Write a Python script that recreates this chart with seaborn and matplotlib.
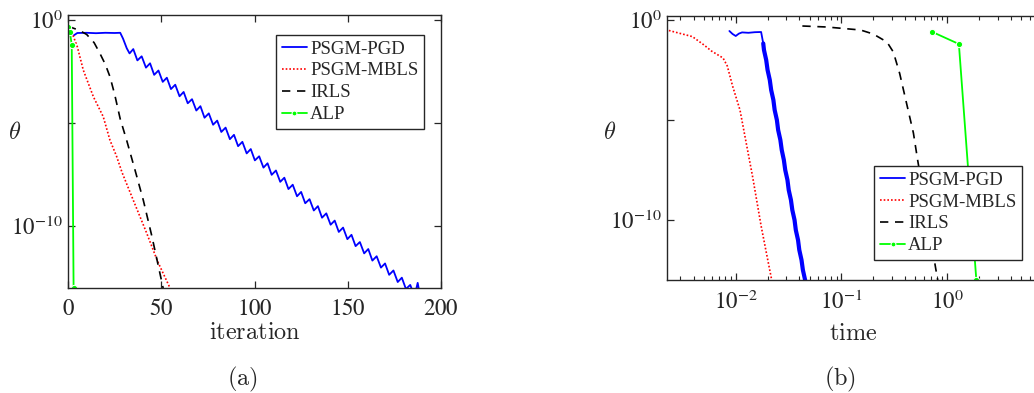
import numpy as np
import pandas as pd
import matplotlib
matplotlib.use("Agg")
import matplotlib.pyplot as plt
from matplotlib.ticker import FixedLocator, FixedFormatter, LogLocator, NullFormatter
import seaborn as sns

# ---- data (theta given as log10 exponents) ----
# (a) theta vs iteration
pgd_iter = [2, 3, 5, 10, 15, 20, 25, 28, 29.5, 31.5, 33.0,
            35.0, 37.2, 39.5, 41.8, 44.0, 46.2, 48.5, 50.8, 53.0, 55.2,
            57.5, 59.8, 62.0, 64.2, 66.5, 68.8, 71.0, 73.2, 75.5, 77.8,
            80.0, 82.2, 84.5, 86.8, 89.0, 91.2, 93.5, 95.8, 98.0, 100.2,
            102.5, 104.8, 107.0, 109.2, 111.5, 113.8, 116.0, 118.2, 120.5, 122.8,
            125.0, 127.2, 129.5, 131.8, 134.0, 136.2, 138.5, 140.8, 143.0, 145.2,
            147.5, 149.8, 152.0, 154.2, 156.5, 158.8, 161.0, 163.2, 165.5, 167.8,
            170.0, 172.2, 174.5, 176.8, 179.0, 181.2, 183.5, 185.8, 187.5, 189.0]
pgd_exp = [-0.55, -0.75, -0.63, -0.62, -0.64, -0.62, -0.63, -0.62, -0.9, -1.37, -1.62,
           -1.41, -1.96, -1.76, -2.31, -2.10, -2.66, -2.45, -3.00, -2.80, -3.35,
           -3.14, -3.70, -3.49, -4.04, -3.84, -4.39, -4.18, -4.74, -4.53, -5.08,
           -4.88, -5.43, -5.22, -5.78, -5.57, -6.12, -5.91, -6.47, -6.26, -6.81,
           -6.61, -7.16, -6.95, -7.51, -7.30, -7.85, -7.65, -8.20, -7.99, -8.55,
           -8.34, -8.89, -8.69, -9.24, -9.03, -9.59, -9.38, -9.93, -9.73, -10.28,
           -10.07, -10.63, -10.42, -10.97, -10.77, -11.32, -11.11, -11.67, -11.46, -12.01,
           -11.81, -12.36, -12.15, -12.71, -12.50, -13.05, -12.85, -13.40, -12.75, -13.5]

mbls_iter = [2, 5, 8.2, 13.6, 18.9, 22.5, 26, 29, 35, 42.2, 48, 54.7, 56]
mbls_exp = [-0.58, -1.3, -2.43, -3.72, -4.69, -5.83, -6.6, -7.4, -8.74, -10.34, -11.7, -13.0, -13.3]

irls_iter = [0, 3, 6, 10, 14, 17, 20, 22.5, 25, 28, 31.5, 36, 40.4, 45, 51, 52]
irls_exp = [-0.3, -0.4, -0.5, -0.7, -1.1, -1.6, -2.15, -2.75, -3.6, -4.8, -5.85, -7.3, -8.75, -10.5, -13.0, -13.4]

alp_iter = [0, 1, 2, 3]
alp_exp = [-0.34, -0.58, -1.2, -13.0]

# (b) theta vs time (time also as log10 exponents)
pgd_t = [-2.06, -2.03, -2.00, -1.97, -1.94, -1.88, -1.82, -1.76, -1.74, -1.733,
         -1.712, -1.699, -1.678, -1.665, -1.644, -1.632, -1.611, -1.599, -1.578, -1.565,
         -1.545, -1.532, -1.511, -1.499, -1.478, -1.465, -1.444, -1.432, -1.411, -1.399,
         -1.378, -1.365, -1.344, -1.33]
pgd_t_exp = [-0.55, -0.7, -0.8, -0.68, -0.62, -0.64, -0.61, -0.6, -1.17, -1.5,
             -2.0, -2.5, -3.0, -3.5, -4.0, -4.5, -5.0, -5.5, -6.0, -6.5,
             -7.0, -7.5, -8.0, -8.5, -9.0, -9.5, -10.0, -10.5, -11.0, -11.5,
             -12.0, -12.5, -13.0, -13.3]
pgd_t_fast = 8  # index where the steep (dense, thick-looking) part begins

mbls_t = [-2.70, -2.65, -2.41, -2.30, -2.23, -2.12, -2.08, -2.03, -1.96, -1.84, -1.76, -1.66, -1.64]
mbls_t_exp = [-0.45, -0.5, -0.83, -1.25, -1.55, -1.9, -2.3, -3.3, -4.5, -7.85, -10.3, -13.0, -13.4]

irls_t = [-1.37, -1.14, -0.82, -0.70, -0.57, -0.51, -0.45, -0.32, -0.28, -0.2, -0.11, -0.09]
irls_t_exp = [-0.3, -0.35, -0.5, -0.7, -1.1, -1.6, -2.67, -5.65, -7.0, -9.5, -12.4, -13.0]

alp_t = [-0.14, 0.11, 0.275]
alp_t_exp = [-0.6, -1.2, -13.0]

methods = ["PSGM-PGD", "PSGM-MBLS", "IRLS", "ALP"]

sns.set_style("ticks")
plt.rcParams["font.family"] = ["Liberation Serif", "DejaVu Serif"]
plt.rcParams["mathtext.fontset"] = "stix"

fig = plt.figure(figsize=(10.34, 3.93), dpi=100)
ax1 = fig.add_axes([68 / 1034, 1 - 288 / 393, 373 / 1034, 273 / 393])
ax2 = fig.add_axes([667 / 1034, 1 - 280 / 393, 386 / 1034, 264 / 393])

styles = {
    "PSGM-PGD": dict(color=(0, 0, 1), linestyle="-", linewidth=1.3),
    "PSGM-MBLS": dict(color=(1, 0, 0), linestyle=(0, (1, 1.2)), linewidth=1.2),
    "IRLS": dict(color="black", linestyle=(0, (5, 4)), linewidth=1.2),
    "ALP": dict(color=(0, 1, 0), linestyle="-", linewidth=1.3, marker="o", markersize=4.5),
}

def frame(xs, ys, name, logx=False):
    x = np.array(xs, dtype=float)
    if logx:
        x = 10.0 ** x
    return pd.DataFrame({"x": x, "theta": 10.0 ** np.array(ys, dtype=float), "method": name})

series_a = [frame(pgd_iter, pgd_exp, methods[0]), frame(mbls_iter, mbls_exp, methods[1]),
            frame(irls_iter, irls_exp, methods[2]), frame(alp_iter, alp_exp, methods[3])]
series_b = [frame(pgd_t, pgd_t_exp, methods[0], True), frame(mbls_t, mbls_t_exp, methods[1], True),
            frame(irls_t, irls_t_exp, methods[2], True), frame(alp_t, alp_t_exp, methods[3], True)]

for ax, series in ((ax1, series_a), (ax2, series_b)):
    for df in series:
        name = df["method"].iloc[0]
        sns.lineplot(data=df, x="x", y="theta", ax=ax, sort=False, estimator=None,
                     label=name, **styles[name])

# the steep part of PGD in (b) is many overlapping iterations -> looks thick
fast = series_b[0].iloc[pgd_t_fast:]
sns.lineplot(data=fast, x="x", y="theta", ax=ax2, sort=False, estimator=None,
             color=(0, 0, 1), linewidth=3.0, legend=False)

spine_c = "#262626"
for ax in (ax1, ax2):
    ax.set_yscale("log")
    for s in ax.spines.values():
        s.set_color(spine_c)
        s.set_linewidth(1.0)
        s.set_visible(True)
    ax.tick_params(which="both", direction="in", top=True, right=True, color=spine_c,
                   labelsize=16.5, labelcolor="#262626")
    ax.tick_params(which="major", length=5, width=0.9)
    ax.tick_params(which="minor", length=3, width=0.8)
    ax.yaxis.set_major_locator(FixedLocator([1e-10, 1e-5, 1e0]))
    ax.yaxis.set_major_formatter(FixedFormatter([r"$10^{-10}$", "", r"$10^{0}$"]))
    ax.yaxis.set_minor_locator(FixedLocator([]))
    ax.tick_params(axis="y", pad=4)
    ax.tick_params(axis="x", pad=8)

# (a)
ax1.set_xlim(0, 200)
ax1.set_ylim(1e-13, 10 ** 0.243)
ax1.set_xticks([0, 50, 100, 150, 200])
ax1.set_xticklabels([r"$0$", r"$50$", r"$100$", r"$150$", r"$200$"])

# (b)
ax2.set_xscale("log")
ax2.set_xlim(10 ** -2.65, 10 ** 1)
ax2.set_ylim(1e-13, 10 ** 0.2)
ax2.xaxis.set_major_locator(FixedLocator([1e-2, 1e-1, 1e0, 1e1]))
ax2.xaxis.set_major_formatter(FixedFormatter([r"$10^{-2}$", r"$10^{-1}$", r"$10^{0}$", ""]))
ax2.xaxis.set_minor_locator(LogLocator(base=10, subs=np.arange(2, 10), numticks=20))
ax2.xaxis.set_minor_formatter(NullFormatter())

label_kw = dict(math_fontfamily="cm", fontsize=17.5, color="#262626")
ax1.set_xlabel(r"$\mathrm{iteration}$", **label_kw)
ax1.xaxis.set_label_coords(0.501, -0.13)
ax2.set_xlabel(r"$\mathrm{time}$", **label_kw)
ax2.xaxis.set_label_coords(0.482, -0.165)
for ax, xc, yc in ((ax1, -0.142, 0.568), (ax2, -0.148, 0.557)):
    ax.set_ylabel(r"$\theta$", rotation=0, ha="center", va="center", **label_kw)
    ax.yaxis.set_label_coords(xc, yc)

cap_kw = dict(label_kw, fontsize=17.5)
fig.text(242 / 1034, 1 - 379 / 393, r"$\mathrm{(a)}$", ha="center", va="center", **cap_kw)
fig.text(840 / 1034, 1 - 379 / 393, r"$\mathrm{(b)}$", ha="center", va="center", **cap_kw)

leg_kw = dict(loc="upper right", fontsize=13.5, frameon=True, fancybox=False, framealpha=1,
              edgecolor="#262626", handlelength=1.35, handletextpad=0.15, borderpad=0.3,
              labelspacing=0.25, borderaxespad=0)
for ax, anchor in ((ax1, (0.954, 0.927)), (ax2, (0.920, 0.432))):
    leg = ax.legend(bbox_to_anchor=anchor, **leg_kw)
    leg.get_frame().set_linewidth(1.0)
    for h in leg.legend_handles:
        h.set_markersize(3.5)

fig.savefig("out.png", dpi=100)
